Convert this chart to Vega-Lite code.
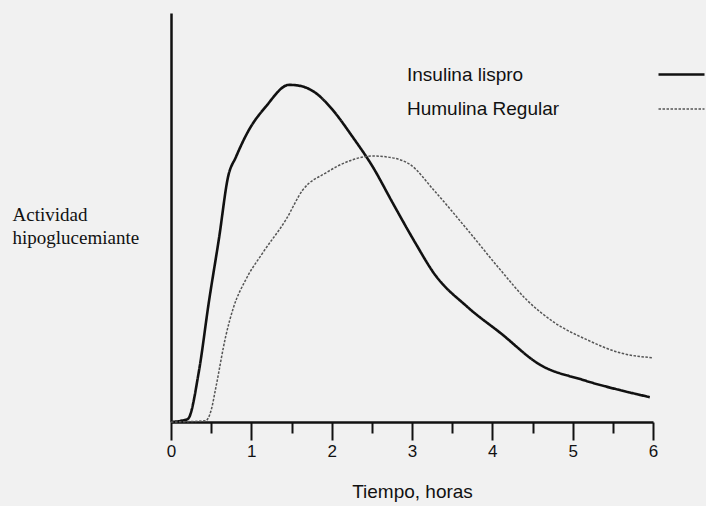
{
  "$schema": "https://vega.github.io/schema/vega-lite/v6.json",
  "width": 482,
  "height": 409,
  "autosize": {"type": "none"},
  "padding": {"left": 171, "top": 13, "right": 53, "bottom": 84},
  "background": "#f1f1f1",
  "config": {"view": {"stroke": null}},
  "data": {"values": [
    {"serie": "Insulina lispro", "horas": 0.0, "actividad": 0.0},
    {"serie": "Insulina lispro", "horas": 0.12, "actividad": 0.03},
    {"serie": "Insulina lispro", "horas": 0.21, "actividad": 0.08},
    {"serie": "Insulina lispro", "horas": 0.35, "actividad": 1.36},
    {"serie": "Insulina lispro", "horas": 0.47, "actividad": 3.12},
    {"serie": "Insulina lispro", "horas": 0.6, "actividad": 4.84},
    {"serie": "Insulina lispro", "horas": 0.71, "actividad": 6.41},
    {"serie": "Insulina lispro", "horas": 0.81, "actividad": 6.94},
    {"serie": "Insulina lispro", "horas": 0.97, "actividad": 7.64},
    {"serie": "Insulina lispro", "horas": 1.18, "actividad": 8.25},
    {"serie": "Insulina lispro", "horas": 1.47, "actividad": 8.82},
    {"serie": "Insulina lispro", "horas": 1.59, "actividad": 8.8},
    {"serie": "Insulina lispro", "horas": 1.8, "actividad": 8.61},
    {"serie": "Insulina lispro", "horas": 2.01, "actividad": 8.17},
    {"serie": "Insulina lispro", "horas": 2.26, "actividad": 7.46},
    {"serie": "Insulina lispro", "horas": 2.51, "actividad": 6.68},
    {"serie": "Insulina lispro", "horas": 2.76, "actividad": 5.73},
    {"serie": "Insulina lispro", "horas": 3.04, "actividad": 4.69},
    {"serie": "Insulina lispro", "horas": 3.27, "actividad": 3.9},
    {"serie": "Insulina lispro", "horas": 3.69, "actividad": 3.01},
    {"serie": "Insulina lispro", "horas": 4.1, "actividad": 2.33},
    {"serie": "Insulina lispro", "horas": 4.6, "actividad": 1.49},
    {"serie": "Insulina lispro", "horas": 5.13, "actividad": 1.1},
    {"serie": "Insulina lispro", "horas": 5.96, "actividad": 0.65},
    {"serie": "Humulina Regular", "horas": 0.0, "actividad": 0.0},
    {"serie": "Humulina Regular", "horas": 0.43, "actividad": 0.03},
    {"serie": "Humulina Regular", "horas": 0.5, "actividad": 0.31},
    {"serie": "Humulina Regular", "horas": 0.56, "actividad": 0.92},
    {"serie": "Humulina Regular", "horas": 0.68, "actividad": 2.23},
    {"serie": "Humulina Regular", "horas": 0.78, "actividad": 3.01},
    {"serie": "Humulina Regular", "horas": 0.93, "actividad": 3.72},
    {"serie": "Humulina Regular", "horas": 1.14, "actividad": 4.42},
    {"serie": "Humulina Regular", "horas": 1.43, "actividad": 5.29},
    {"serie": "Humulina Regular", "horas": 1.64, "actividad": 6.07},
    {"serie": "Humulina Regular", "horas": 1.93, "actividad": 6.52},
    {"serie": "Humulina Regular", "horas": 2.26, "actividad": 6.86},
    {"serie": "Humulina Regular", "horas": 2.51, "actividad": 6.96},
    {"serie": "Humulina Regular", "horas": 2.76, "actividad": 6.91},
    {"serie": "Humulina Regular", "horas": 2.98, "actividad": 6.73},
    {"serie": "Humulina Regular", "horas": 3.27, "actividad": 6.07},
    {"serie": "Humulina Regular", "horas": 3.69, "actividad": 5.03},
    {"serie": "Humulina Regular", "horas": 4.1, "actividad": 3.98},
    {"serie": "Humulina Regular", "horas": 4.43, "actividad": 3.19},
    {"serie": "Humulina Regular", "horas": 4.76, "actividad": 2.62},
    {"serie": "Humulina Regular", "horas": 5.18, "actividad": 2.15},
    {"serie": "Humulina Regular", "horas": 5.59, "actividad": 1.81},
    {"serie": "Humulina Regular", "horas": 5.99, "actividad": 1.68}
  ]},
  "mark": {"type": "line", "interpolate": "monotone", "strokeCap": "butt", "strokeJoin": "round"},
  "encoding": {
    "x": {
      "field": "horas", "type": "quantitative",
      "scale": {"domain": [0, 6], "nice": false, "zero": false},
      "axis": {
        "title": "Tiempo, horas",
        "titleFont": "Liberation Sans", "titleFontSize": 19, "titleFontWeight": "normal",
        "titleColor": "#111", "titlePadding": 23,
        "values": [0, 0.5, 1, 1.5, 2, 2.5, 3, 3.5, 4, 4.5, 5, 5.5, 6],
        "labelExpr": "datum.value % 1 === 0 ? datum.value : ''",
        "labelFont": "Liberation Sans", "labelFontSize": 17, "labelColor": "#111",
        "labelPadding": 3, "labelFlush": false,
        "tickSize": {"condition": {"test": "datum.value % 1 === 0", "value": 18}, "value": 11},
        "tickWidth": 2, "tickColor": "#111",
        "domainColor": "#111", "domainWidth": 2.5,
        "grid": false
      }
    },
    "y": {
      "field": "actividad", "type": "quantitative",
      "scale": {"domain": [0, 10.7], "nice": false},
      "axis": {
        "title": ["Actividad", "hipoglucemiante"],
        "titleFont": "Liberation Serif", "titleFontSize": 19, "titleFontWeight": "normal",
        "titleColor": "#111", "titleAngle": 0, "titleAlign": "left", "titleBaseline": "top",
        "titleX": -159, "titleY": 192, "titleLineHeight": 23,
        "labels": false, "ticks": false, "grid": false,
        "domainColor": "#111", "domainWidth": 2.5
      }
    },
    "color": {
      "field": "serie", "type": "nominal",
      "scale": {"domain": ["Insulina lispro", "Humulina Regular"], "range": ["#111111", "#555555"]},
      "legend": {
        "orient": "none", "legendX": 486, "legendY": 37, "title": null,
        "symbolType": "stroke", "symbolSize": 2116,
        "labelFont": "Liberation Sans", "labelFontSize": 19, "labelColor": "#111",
        "labelOffset": -299, "rowPadding": -10
      }
    },
    "strokeWidth": {
      "field": "serie", "type": "nominal",
      "scale": {"domain": ["Insulina lispro", "Humulina Regular"], "range": [2.6, 1.5]},
      "legend": null
    },
    "strokeDash": {
      "field": "serie", "type": "nominal",
      "scale": {"domain": ["Insulina lispro", "Humulina Regular"], "range": [[1, 0], [2.5, 1.5]]},
      "legend": null
    }
  }
}
